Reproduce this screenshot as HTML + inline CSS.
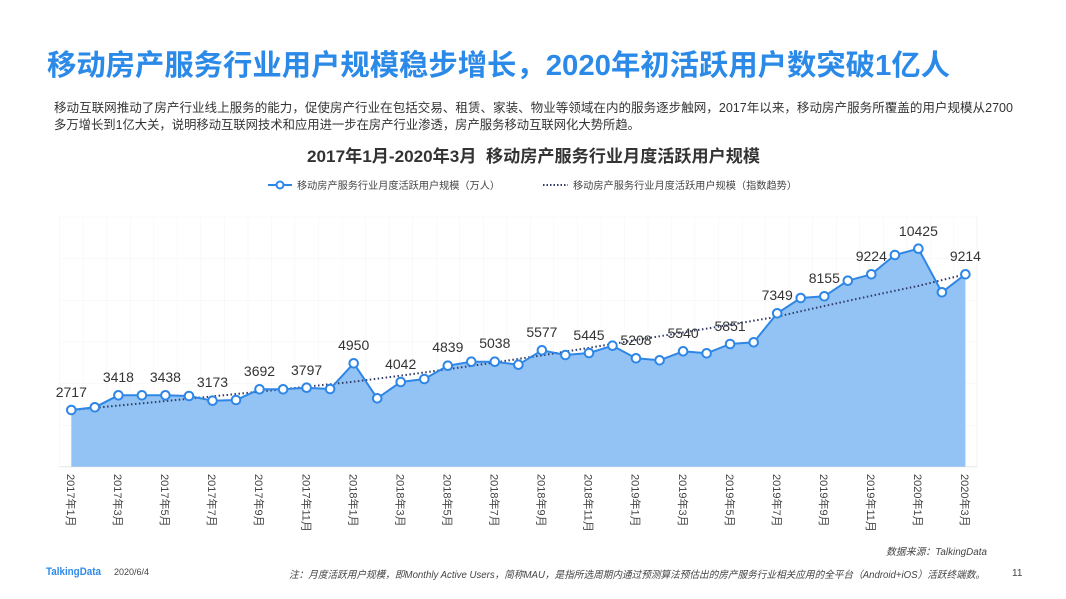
<!DOCTYPE html>
<html><head><meta charset="utf-8"><style>
html,body{margin:0;padding:0;background:#fff;}
svg{display:block;font-family:"Liberation Sans","Noto Sans CJK SC",sans-serif;}
</style></head><body>
<svg width="1066" height="599" viewBox="0 0 1066 599" xmlns="http://www.w3.org/2000/svg">
<defs>
<pattern id="g" patternUnits="userSpaceOnUse" x="59.5" y="216.7" width="23.53" height="41.67">
<path d="M0 0V41.67M0 0H23.53" stroke="#f3f3f3" stroke-width="1" fill="none"/>
</pattern>
</defs>
<text x="47" y="75" font-size="29" font-weight="bold" fill="#2b8ae8" textLength="903" lengthAdjust="spacingAndGlyphs">移动房产服务行业用户规模稳步增长，2020年初活跃用户数突破1亿人</text>
<text x="54" y="112" font-size="12.5" fill="#333" textLength="959" lengthAdjust="spacingAndGlyphs">移动互联网推动了房产行业线上服务的能力，促使房产行业在包括交易、租赁、家装、物业等领域在内的服务逐步触网，2017年以来，移动房产服务所覆盖的用户规模从2700</text>
<text x="54" y="129" font-size="12.5" fill="#333" textLength="586" lengthAdjust="spacingAndGlyphs">多万增长到1亿大关，说明移动互联网技术和应用进一步在房产行业渗透，房产服务移动互联网化大势所趋。</text>
<text x="307" y="162" font-size="17" font-weight="bold" fill="#333" textLength="453" lengthAdjust="spacingAndGlyphs" xml:space="preserve">2017年1月-2020年3月  移动房产服务行业月度活跃用户规模</text>
<line x1="268" y1="185" x2="292" y2="185" stroke="#2e86e6" stroke-width="2"/>
<circle cx="280" cy="185" r="3.5" fill="#fff" stroke="#2e86e6" stroke-width="2"/>
<text x="297" y="189" font-size="10" fill="#444" textLength="203" lengthAdjust="spacingAndGlyphs">移动房产服务行业月度活跃用户规模（万人）</text>
<line x1="543" y1="185" x2="568" y2="185" stroke="#2f3a66" stroke-width="2" stroke-dasharray="1.5,2" />
<text x="573" y="189" font-size="10" fill="#444" textLength="224" lengthAdjust="spacingAndGlyphs">移动房产服务行业月度活跃用户规模（指数趋势）</text>
<rect x="59.5" y="216.7" width="917.5" height="250" fill="url(#g)"/>
<line x1="977" y1="216.7" x2="977" y2="466.7" stroke="#f3f3f3"/>
<line x1="59.5" y1="466.7" x2="977" y2="466.7" stroke="#e6e6e6"/>
<path fill="#93c3f4" d="M71.3 466.7 L71.3 410 L94.8 407.3 L118.4 395.3 L141.9 395.3 L165.4 395.3 L189.0 396 L212.5 400.7 L236.0 400 L259.5 389.3 L283.1 389.3 L306.6 387.7 L330.1 389 L353.7 363.3 L377.2 398.3 L400.7 382 L424.3 379 L447.8 365.7 L471.3 361.7 L494.8 361.7 L518.4 364.7 L541.9 350.3 L565.4 355 L589.0 353 L612.5 345.7 L636.0 358.3 L659.6 360.3 L683.1 351.3 L706.6 353.3 L730.1 344 L753.7 342.3 L777.2 313.3 L800.7 298 L824.3 296.3 L847.8 280.7 L871.3 274.3 L894.9 255 L918.4 248.7 L941.9 292.3 L965.4 274.3 L965.4 466.7 Z"/>
<path fill="none" stroke="#2f3a66" stroke-width="2" stroke-dasharray="1.5,2.5" d="M71.3 410 Q212 397 353.7 381.7 Q495 364 636 340 Q706 329 777 316.7 Q850 300 918 286 L965.4 274.3"/>
<polyline fill="none" stroke="#2e86e6" stroke-width="2" stroke-linejoin="round" points="71.3,410 94.8,407.3 118.4,395.3 141.9,395.3 165.4,395.3 189.0,396 212.5,400.7 236.0,400 259.5,389.3 283.1,389.3 306.6,387.7 330.1,389 353.7,363.3 377.2,398.3 400.7,382 424.3,379 447.8,365.7 471.3,361.7 494.8,361.7 518.4,364.7 541.9,350.3 565.4,355 589.0,353 612.5,345.7 636.0,358.3 659.6,360.3 683.1,351.3 706.6,353.3 730.1,344 753.7,342.3 777.2,313.3 800.7,298 824.3,296.3 847.8,280.7 871.3,274.3 894.9,255 918.4,248.7 941.9,292.3 965.4,274.3"/>
<g fill="#fff" stroke="#2e86e6" stroke-width="2">
<circle cx="71.3" cy="410" r="4.3"/><circle cx="94.8" cy="407.3" r="4.3"/><circle cx="118.4" cy="395.3" r="4.3"/><circle cx="141.9" cy="395.3" r="4.3"/><circle cx="165.4" cy="395.3" r="4.3"/><circle cx="189.0" cy="396" r="4.3"/><circle cx="212.5" cy="400.7" r="4.3"/><circle cx="236.0" cy="400" r="4.3"/><circle cx="259.5" cy="389.3" r="4.3"/><circle cx="283.1" cy="389.3" r="4.3"/><circle cx="306.6" cy="387.7" r="4.3"/><circle cx="330.1" cy="389" r="4.3"/><circle cx="353.7" cy="363.3" r="4.3"/><circle cx="377.2" cy="398.3" r="4.3"/><circle cx="400.7" cy="382" r="4.3"/><circle cx="424.3" cy="379" r="4.3"/><circle cx="447.8" cy="365.7" r="4.3"/><circle cx="471.3" cy="361.7" r="4.3"/><circle cx="494.8" cy="361.7" r="4.3"/><circle cx="518.4" cy="364.7" r="4.3"/><circle cx="541.9" cy="350.3" r="4.3"/><circle cx="565.4" cy="355" r="4.3"/><circle cx="589.0" cy="353" r="4.3"/><circle cx="612.5" cy="345.7" r="4.3"/><circle cx="636.0" cy="358.3" r="4.3"/><circle cx="659.6" cy="360.3" r="4.3"/><circle cx="683.1" cy="351.3" r="4.3"/><circle cx="706.6" cy="353.3" r="4.3"/><circle cx="730.1" cy="344" r="4.3"/><circle cx="753.7" cy="342.3" r="4.3"/><circle cx="777.2" cy="313.3" r="4.3"/><circle cx="800.7" cy="298" r="4.3"/><circle cx="824.3" cy="296.3" r="4.3"/><circle cx="847.8" cy="280.7" r="4.3"/><circle cx="871.3" cy="274.3" r="4.3"/><circle cx="894.9" cy="255" r="4.3"/><circle cx="918.4" cy="248.7" r="4.3"/><circle cx="941.9" cy="292.3" r="4.3"/><circle cx="965.4" cy="274.3" r="4.3"/>
</g>
<g font-size="14" fill="#333" text-anchor="middle">
<text x="71.3" y="397">2717</text><text x="118.4" y="382">3418</text><text x="165.4" y="382">3438</text><text x="212.5" y="387">3173</text><text x="259.5" y="376">3692</text><text x="306.6" y="375">3797</text><text x="353.7" y="350">4950</text><text x="400.7" y="369">4042</text><text x="447.8" y="352">4839</text><text x="494.8" y="348">5038</text><text x="541.9" y="337">5577</text><text x="589.0" y="340">5445</text><text x="636.0" y="345">5208</text><text x="683.1" y="338">5540</text><text x="730.1" y="331">5851</text><text x="777.2" y="300">7349</text><text x="824.3" y="283">8155</text><text x="871.3" y="261">9224</text><text x="918.4" y="236">10425</text><text x="965.4" y="261">9214</text>
</g>
<g font-size="11" fill="#444">
<text transform="translate(67,474) rotate(90)">2017年1月</text>
<text transform="translate(114.1,474) rotate(90)">2017年3月</text>
<text transform="translate(161.1,474) rotate(90)">2017年5月</text>
<text transform="translate(208.2,474) rotate(90)">2017年7月</text>
<text transform="translate(255.2,474) rotate(90)">2017年9月</text>
<text transform="translate(302.3,474) rotate(90)">2017年11月</text>
<text transform="translate(349.4,474) rotate(90)">2018年1月</text>
<text transform="translate(396.4,474) rotate(90)">2018年3月</text>
<text transform="translate(443.5,474) rotate(90)">2018年5月</text>
<text transform="translate(490.5,474) rotate(90)">2018年7月</text>
<text transform="translate(537.6,474) rotate(90)">2018年9月</text>
<text transform="translate(584.7,474) rotate(90)">2018年11月</text>
<text transform="translate(631.7,474) rotate(90)">2019年1月</text>
<text transform="translate(678.8,474) rotate(90)">2019年3月</text>
<text transform="translate(725.8,474) rotate(90)">2019年5月</text>
<text transform="translate(772.9,474) rotate(90)">2019年7月</text>
<text transform="translate(820,474) rotate(90)">2019年9月</text>
<text transform="translate(867,474) rotate(90)">2019年11月</text>
<text transform="translate(914.1,474) rotate(90)">2020年1月</text>
<text transform="translate(961.1,474) rotate(90)">2020年3月</text>
</g>
<text x="886" y="555" font-size="10" font-style="italic" fill="#444" textLength="101" lengthAdjust="spacingAndGlyphs">数据来源：TalkingData</text>
<text x="46" y="575" font-size="11" font-weight="bold" fill="#2e8ae8" textLength="55" lengthAdjust="spacingAndGlyphs">TalkingData</text>
<text x="114" y="575" font-size="9" fill="#444">2020/6/4</text>
<text x="289" y="578" font-size="10" font-style="italic" fill="#444" textLength="696" lengthAdjust="spacingAndGlyphs">注：月度活跃用户规模，即Monthly Active Users，简称MAU，是指所选周期内通过预测算法预估出的房产服务行业相关应用的全平台（Android+iOS）活跃终端数。</text>
<text x="1012" y="576" font-size="10" fill="#444">11</text>
</svg>
</body></html>
